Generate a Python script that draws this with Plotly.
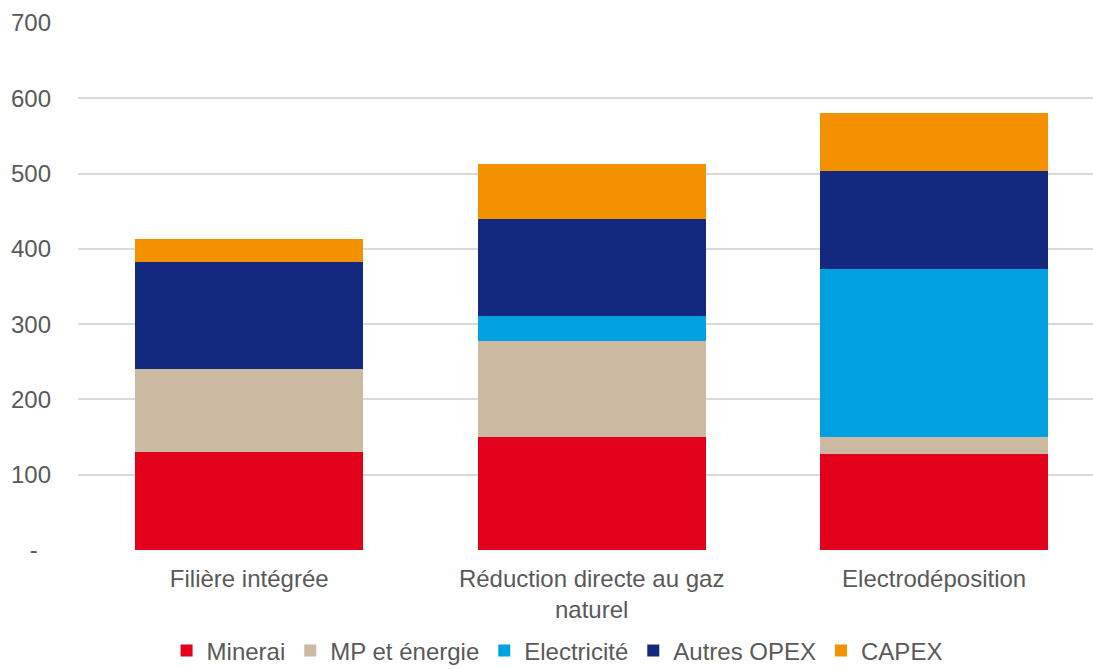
import plotly.graph_objects as go

# Cost breakdown per steelmaking route (stacked)
categories = ["Filière intégrée", "Réduction directe au gaz<br>naturel", "Electrodéposition"]

minerai = [130, 150, 128]
mp_energie = [110, 128, 22]
electricite = [0, 33, 223]
autres_opex = [143, 129, 130]
capex = [30, 73, 77]

series = [
    ("Minerai", minerai, "#E2001A"),
    ("MP et énergie", mp_energie, "#CCB9A1"),
    ("Electricité", electricite, "#00A1E0"),
    ("Autres OPEX", autres_opex, "#13287F"),
    ("CAPEX", capex, "#F39100"),
]

y_ticks = [0, 100, 200, 300, 400, 500, 600, 700]
y_ticktext = ["-\u00a0\u00a0"] + [str(v) for v in y_ticks[1:]]

font_family = "Liberation Sans, Arial, sans-serif"
grey = "#595959"
fs = 24

fig = go.Figure()
for name, vals, color in series:
    fig.add_trace(go.Bar(
        x=[0, 1, 2],
        y=vals,
        name=name,
        marker=dict(color=color, line=dict(width=0)),
    ))

fig.update_layout(
    barmode="stack",
    bargap=0.334,
    width=1093,
    height=669,
    margin=dict(l=78, r=0, t=23, b=119, autoexpand=False),
    paper_bgcolor="white",
    plot_bgcolor="white",
    font=dict(family=font_family, size=fs, color=grey),
    showlegend=True,
    legend=dict(
        orientation="h",
        x=0.472,
        xanchor="center",
        yref="container",
        y=0.027,
        yanchor="middle",
        traceorder="normal",
        font=dict(size=fs, color=grey),
        itemwidth=30,
        bgcolor="rgba(0,0,0,0)",
    ),
    xaxis=dict(
        range=[-0.5, 2.464],
        tickmode="array",
        tickvals=[0, 1, 2],
        ticktext=categories,
        showgrid=False,
        zeroline=False,
        showline=False,
        ticks="",
        ticklabelstandoff=12,
        tickfont=dict(size=fs, color=grey),
    ),
    yaxis=dict(
        range=[0, 700],
        tickmode="array",
        tickvals=y_ticks,
        ticktext=y_ticktext,
        showgrid=True,
        gridcolor="#D9D9D9",
        gridwidth=1.5,
        zeroline=False,
        showline=False,
        ticks="",
        ticklabelstandoff=26,
        tickfont=dict(size=fs, color=grey),
    ),
)

fig.write_html("out.html")
